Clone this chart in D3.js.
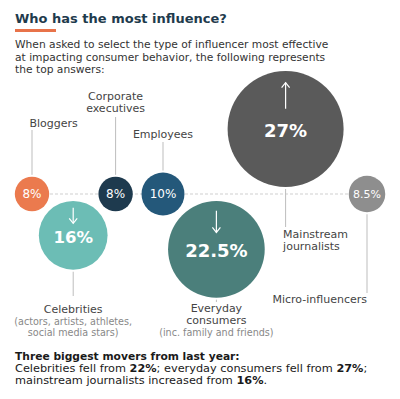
<!DOCTYPE html>
<html>
<head>
<meta charset="utf-8">
<script src="https://cdn.jsdelivr.net/npm/d3@7"></script>
<style>
  body { margin: 0; background: #fff; }
  svg { display: block; font-family: "DejaVu Sans", sans-serif; }
</style>
</head>
<body>
<div id="chart"></div>
<script>
// Data, in left-to-right order
const categories = ["Bloggers", "Celebrities", "Corporate executives", "Employees",
                    "Everyday consumers", "Mainstream journalists", "Micro-influencers"];
const values = [8, 16, 8, 10, 22.5, 27, 8.5];
const valueLabels = ["8%", "16%", "8%", "10%", "22.5%", "27%", "8.5%"];
const changes = ["", "down", "", "", "down", "up", ""];
const lastYear = [null, 22, null, null, 27, 16, null];
const nameLines = [["Bloggers"], ["Celebrities"], ["Corporate", "executives"], ["Employees"],
                   ["Everyday", "consumers"], ["Mainstream", "journalists"], ["Micro-influencers"]];
const noteLines = [[], ["(actors, artists, athletes,", "social media stars)"], [], [],
                   ["(inc. family and friends)"], [], []];
const colors = ["#EB7A4E", "#6CBDB5", "#1E3A4E", "#24587A", "#4B7F7B", "#5A5A5A", "#8E8E8E"];

// Layout: horizontal slot (0-100 units), side of the baseline, label placement
const slots = [8, 18.3, 28.9, 40.75, 54.1, 71.4, 91.75];
const sides = [0, 1, 0, 0, 1, -1, 0];
const labelPos = ["above", "below", "above", "above", "below", "below", "below"];
const labelAnchor = ["start", "middle", "middle", "middle", "middle", "start", "end"];
const labelY = [127, 313, 112, 138, 312, 238, 303];
const leaderEnd = [130, 296, 117, 142, 302, 227, 293];

const width = 400, height = 399;
const lineY = 194, gap = 7;

const svg = d3.select("#chart").append("svg")
    .attr("width", width)
    .attr("height", height);

// Header
svg.append("text")
    .attr("x", 15).attr("y", 22.5)
    .attr("font-size", 13).attr("font-weight", "bold")
    .attr("fill", "#1F3B4D")
    .text("Who has the most influence?");

svg.append("rect")
    .attr("x", 15).attr("y", 29)
    .attr("width", 41).attr("height", 3)
    .attr("fill", "#E8734A");

const sub = ["When asked to select the type of influencer most effective",
             "at impacting consumer behavior, the following represents",
             "the top answers:"];
svg.append("g").selectAll("text")
    .data(sub)
    .join("text")
    .attr("x", 15).attr("y", (d, i) => 48 + i * 12.6)
    .attr("font-size", 10.7).attr("fill", "#333")
    .text(d => d);

// Scales
const xScale = d3.scaleLinear().domain([0, 100]).range([0, width]);
const rScale = d3.scaleLinear().domain([0, d3.max(values)]).range([0, 58]);

const nodes = categories.map((c, i) => {
    const r = rScale(values[i]);
    return {
        name: c, i, r,
        cx: xScale(slots[i]),
        cy: lineY + sides[i] * (sides[i] ? r + gap : 0)
    };
});

// Dashed baseline
svg.append("line")
    .attr("x1", 15).attr("x2", 385)
    .attr("y1", lineY).attr("y2", lineY)
    .attr("stroke", "#cfcfcf")
    .attr("stroke-dasharray", "3,2");

// Leader lines
svg.append("g").selectAll("line")
    .data(nodes)
    .join("line")
    .attr("x1", d => d.cx).attr("x2", d => d.cx)
    .attr("y1", d => labelPos[d.i] === "above" ? leaderEnd[d.i] : d.cy + d.r + 2)
    .attr("y2", d => labelPos[d.i] === "above" ? d.cy - d.r - 2 : leaderEnd[d.i])
    .attr("stroke", "#bdbdbd")
    .attr("stroke-width", 1);

// Bubbles
svg.append("g").selectAll("circle")
    .data(nodes)
    .join("circle")
    .attr("cx", d => d.cx)
    .attr("cy", d => d.cy)
    .attr("r", d => d.r)
    .attr("fill", d => colors[d.i]);

// Values inside bubbles
const valueSize = d => d.r < 25 ? (valueLabels[d.i].length > 3 ? 11 : 12) : (d.r < 40 ? 16.5 : 18);
svg.append("g").selectAll("text")
    .data(nodes)
    .join("text")
    .attr("x", d => d.cx)
    .attr("y", d => changes[d.i] ? d.cy + 8 : d.cy + 4)
    .attr("text-anchor", "middle")
    .attr("font-size", valueSize)
    .attr("font-weight", d => d.r < 25 ? "normal" : "bold")
    .attr("fill", "#fff")
    .text(d => valueLabels[d.i]);

// Change arrows
const arrows = svg.append("g").selectAll("g")
    .data(nodes.filter(d => changes[d.i]))
    .join("g")
    .attr("stroke", "#fff")
    .attr("stroke-width", 1.2)
    .attr("fill", "none");

arrows.append("line")
    .attr("x1", d => d.cx).attr("x2", d => d.cx)
    .attr("y1", d => d.cy - d.r * 0.8)
    .attr("y2", d => d.cy - d.r * 0.35);

arrows.append("path")
    .attr("d", d => {
        const tip = changes[d.i] === "up" ? d.cy - d.r * 0.8 : d.cy - d.r * 0.35;
        const dir = changes[d.i] === "up" ? 1 : -1;
        return `M${d.cx - 4},${tip + dir * 5}L${d.cx},${tip}L${d.cx + 4},${tip + dir * 5}`;
    });

// Category labels, one text per line
const lh = 12;
const labelRows = nodes.flatMap(d => {
    const names = nameLines[d.i];
    const dx = labelAnchor[d.i] === "start" ? -2.5 : 0;
    // above labels: labelY is the last line; below labels: labelY is the first line
    const y0 = labelPos[d.i] === "above" ? labelY[d.i] - (names.length - 1) * lh : labelY[d.i];
    const rows = names.map((s, k) => ({ s, x: d.cx + dx, y: y0 + k * lh, a: labelAnchor[d.i], note: false }));
    noteLines[d.i].forEach((s, k) => {
        rows.push({ s, x: d.cx + dx, y: y0 + names.length * lh + k * 11, a: labelAnchor[d.i], note: true });
    });
    return rows;
});

svg.append("g").selectAll("text")
    .data(labelRows)
    .join("text")
    .attr("x", d => d.x)
    .attr("y", d => d.y)
    .attr("text-anchor", d => d.a)
    .attr("font-size", d => d.note ? 9.6 : 11)
    .attr("fill", d => d.note ? "#888" : "#444")
    .text(d => d.s);

// Footer
const iCel = categories.indexOf("Celebrities");
const iEve = categories.indexOf("Everyday consumers");
const iMain = categories.indexOf("Mainstream journalists");
const footer = [
    [["Three biggest movers from last year:", true]],
    [["Celebrities fell from ", false], [lastYear[iCel] + "%", true], ["; everyday consumers fell from ", false],
     [lastYear[iEve] + "%", true], [";", false]],
    [["mainstream journalists increased from ", false], [lastYear[iMain] + "%", true], [".", false]]
];
svg.append("g").selectAll("text")
    .data(footer)
    .join("text")
    .attr("x", 15).attr("y", (d, i) => 360 + i * 12)
    .attr("font-size", (d, i) => i === 0 ? 10.7 : 11.3)
    .attr("fill", "#1a1a1a")
    .selectAll("tspan")
    .data(d => d)
    .join("tspan")
    .attr("font-weight", d => d[1] ? "bold" : "normal")
    .text(d => d[0]);
</script>
</body>
</html>
